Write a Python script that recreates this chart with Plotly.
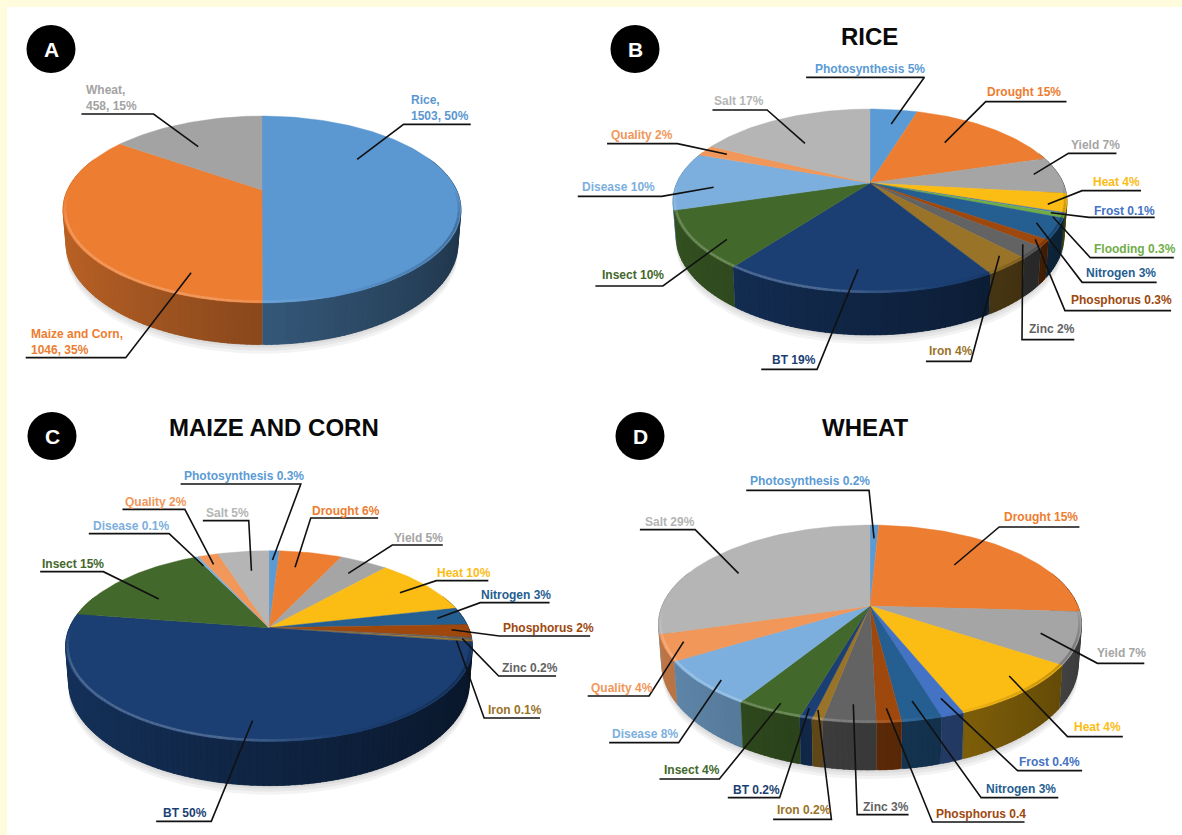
import math
import plotly.graph_objects as go

# ---------------- data ----------------
colors = {"Photosynthesis": "#5B9BD5", "Drought": "#ED7D31", "Yield": "#A5A5A5", "Heat": "#FBBC14",
          "Frost": "#4472C4", "Flooding": "#70AD47", "Nitrogen": "#255E91", "Phosphorus": "#9E480E",
          "Zinc": "#636363", "Iron": "#997328", "BT": "#1B3F73", "Insect": "#43682B",
          "Disease": "#7CAFDD", "Quality": "#F1975A", "Salt": "#B4B5B4",
          "Rice": "#5B97D1", "Maize": "#ED7D31", "Wheat": "#A3A3A3"}

crop_names = ["Rice", "Maize", "Wheat"]
crop_values = [1503, 1046, 458]

rice_names = ["Photosynthesis", "Drought", "Yield", "Heat", "Frost", "Flooding", "Nitrogen", "Phosphorus",
              "Zinc", "Iron", "BT", "Insect", "Disease", "Quality", "Salt"]
rice_values = [4.7, 15.6, 6.5, 3.3, 0.2, 0.7, 3.7, 1.2, 2.1, 3.3, 18.9, 10.1, 10.2, 1.9, 17.6]

maize_names = ["Photosynthesis", "Drought", "Yield", "Heat", "Nitrogen", "Phosphorus", "Zinc", "Iron",
               "BT", "Insect", "Disease", "Quality", "Salt"]
maize_values = [1.0, 6.0, 4.6, 9.8, 3.0, 2.2, 0.4, 0.3, 50.0, 15.4, 0.3, 1.9, 4.9]

wheat_names = ["Photosynthesis", "Drought", "Yield", "Heat", "Frost", "Nitrogen", "Phosphorus", "Zinc",
               "Iron", "BT", "Insect", "Disease", "Quality", "Salt"]
wheat_values = [0.8, 25.1, 8.5, 9.5, 1.5, 2.6, 1.6, 3.4, 0.7, 0.8, 4.3, 7.4, 4.3, 29.5]

# ---------------- layout of the four panels ----------------
# cx, cy = apex, rx, ry = radii before perspective, k = perspective, h = wall height
panel_geo = {
    "A": dict(cx=262, cy=190, rx=194.6, ry=89.4, k=-0.2086, h=33),
    "B": dict(cx=870, cy=183, rx=193.2, ry=88.5, k=-0.1957, h=33.8),
    "C": dict(cx=269, cy=627.7, rx=199.6, ry=91.9, k=-0.1937, h=35.5),
    "D": dict(cx=870, cy=606, rx=208.0, ry=95.7, k=-0.182, h=38.5),
}
# conversion of callout coordinates: page x = ox + X / sx, page y = oy + Y / 3
frames = {"A": (0, 2.8, 0), "B": (570, 2.562, 0), "C": (0, 2.613, 400), "D": (580, 2.605, 400)}

callouts = {
    "A": [("Rice", "Rice,<br>1503, 50%", 1148, 323, [(1000, 478), (1130, 373), (1318, 373)]),
          ("Wheat", "Wheat,<br>458, 15%", 238, 295, [(555, 440), (430, 342), (228, 342)]),
          ("Maize", "Maize and Corn,<br>1046, 35%", 83, 1026, [(535, 818), (352, 1073), (72, 1073)])],
    "B": [("Photosynthesis", "Photosynthesis 5%", 625, 208, [(823, 372), (908, 232), (605, 232)]),
          ("Drought", "Drought 15%", 1066, 277, [(960, 428), (1065, 305), (1272, 305)]),
          ("Yield", "Yield 7%", 1282, 435, [(1188, 523), (1277, 460), (1400, 460)]),
          ("Heat", "Heat 4%", 1338, 545, [(1224, 613), (1312, 572), (1463, 572)]),
          ("Frost", "Frost 0.1%", 1340, 632, [(1232, 638), (1330, 652), (1498, 652)]),
          ("Flooding", "Flooding 0.3%", 1340, 748, [(1237, 650), (1333, 773), (1547, 773)]),
          ("Nitrogen", "Nitrogen 3%", 1320, 820, [(1195, 668), (1312, 847), (1503, 847)]),
          ("Phosphorus", "Phosphorus 0.3%", 1280, 900, [(1192, 718), (1268, 932), (1540, 932)]),
          ("Zinc", "Zinc 2%", 1173, 988, [(1160, 733), (1158, 1019), (1292, 1019)]),
          ("Iron", "Iron 4%", 918, 1054, [(1100, 767), (1027, 1084), (912, 1084)]),
          ("BT", "BT 19%", 514, 1080, [(738, 808), (633, 1108), (490, 1108)]),
          ("Insect", "Insect 10%", 80, 825, [(402, 718), (238, 858), (65, 858)]),
          ("Disease", "Disease 10%", 27, 560, [(368, 562), (235, 589), (20, 589)]),
          ("Quality", "Quality 2%", 102, 404, [(402, 463), (275, 431), (95, 431)]),
          ("Salt", "Salt 17%", 366, 302, [(602, 430), (505, 330), (365, 330)])],
    "C": [("Photosynthesis", "Photosynthesis 0.3%", 477, 229, [(712, 480), (786, 252), (472, 252)]),
          ("Drought", "Drought 6%", 813, 332, [(771, 502), (812, 354), (988, 354)]),
          ("Yield", "Yield 5%", 1027, 413, [(910, 520), (1025, 435), (1157, 435)]),
          ("Heat", "Heat 10%", 1138, 518, [(1045, 578), (1140, 542), (1276, 542)]),
          ("Nitrogen", "Nitrogen 3%", 1254, 584, [(1143, 655), (1255, 608), (1436, 608)]),
          ("Phosphorus", "Phosphorus 2%", 1311, 685, [(1180, 689), (1305, 708), (1542, 708)]),
          ("Zinc", "Zinc 0.2%", 1308, 805, [(1208, 716), (1303, 828), (1453, 828)]),
          ("Iron", "Iron 0.1%", 1272, 930, [(1193, 722), (1265, 954), (1411, 954)]),
          ("BT", "BT 50%", 424, 1238, [(660, 962), (552, 1264), (408, 1264)]),
          ("Insect", "Insect 15%", 107, 492, [(415, 597), (270, 515), (105, 515)]),
          ("Disease", "Disease 0.1%", 240, 377, [(532, 498), (442, 401), (232, 401)]),
          ("Quality", "Quality 2%", 324, 305, [(558, 493), (483, 328), (320, 328)]),
          ("Salt", "Salt 5%", 536, 340, [(657, 512), (650, 362), (530, 362)])],
    "D": [("Photosynthesis", "Photosynthesis 0.2%", 440, 244, [(766, 415), (753, 271), (433, 271)]),
          ("Drought", "Drought 15%", 1103, 350, [(975, 495), (1092, 381), (1301, 381)]),
          ("Yield", "Yield 7%", 1344, 759, [(1200, 700), (1348, 790), (1470, 790)]),
          ("Heat", "Heat 4%", 1284, 980, [(1118, 828), (1270, 1010), (1414, 1010)]),
          ("Frost", "Frost 0.4%", 1140, 1086, [(940, 895), (1140, 1112), (1308, 1112)]),
          ("Nitrogen", "Nitrogen 3%", 1056, 1166, [(865, 903), (1045, 1193), (1246, 1193)]),
          ("Phosphorus", "Phosphorus 0.4", 926, 1242, [(798, 925), (918, 1266), (1158, 1266)]),
          ("Zinc", "Zinc 3%", 735, 1222, [(712, 913), (722, 1244), (856, 1244)]),
          ("Iron", "Iron 0.2%", 510, 1230, [(620, 930), (655, 1258), (503, 1258)]),
          ("BT", "BT 0.2%", 396, 1170, [(597, 925), (520, 1193), (385, 1193)]),
          ("Insect", "Insect 4%", 215, 1110, [(523, 910), (363, 1137), (207, 1137)]),
          ("Disease", "Disease 8%", 80, 1003, [(368, 840), (257, 1028), (76, 1028)]),
          ("Quality", "Quality 4%", 27, 864, [(270, 725), (180, 888), (20, 888)]),
          ("Salt", "Salt 29%", 166, 366, [(413, 520), (300, 389), (156, 389)])],
}
titles = [("RICE", 869, 36), ("MAIZE AND CORN", 274, 427), ("WHEAT", 865, 427)]
badges = [("A", 51, 49), ("B", 635, 49), ("C", 52, 436), ("D", 640, 436)]

FONT = "Liberation Sans"
fig = go.Figure()


def hex_rgb(c):
    return tuple(int(c[i:i + 2], 16) for i in (1, 3, 5))


def shade(c, f):
    r, g, b = hex_rgb(c)
    return f"rgb({int(r * f)},{int(g * f)},{int(b * f)})"


def mix(c, other, a):
    return tuple(int(v * (1 - a) + o * a) for v, o in zip(c, other))


def pt(g, th, rad=1.0):
    """th measured clockwise from the top of the disc, with perspective."""
    sn, cs = -math.cos(th) * rad, math.sin(th) * rad
    w = 1 + g["k"] * sn
    return g["cx"] + g["rx"] * cs / w, g["cy"] + g["ry"] * sn / w


def low(g, th):
    x, y = pt(g, th)
    sn = -math.cos(th)
    return g["cx"] + (x - g["cx"]) * 0.985, y + g["h"] / (1 + g["k"] * sn)


def poly(xs, ys, fill, line=None, lw=0.0):
    fig.add_trace(go.Scatter(x=xs, y=ys, mode="lines", fill="toself", fillcolor=fill,
                             line=dict(color=line or fill, width=lw), hoverinfo="skip", showlegend=False))


def draw_pie(g, names, values):
    total = sum(values)
    step = math.radians(1.5)
    bounds, acc = [0.0], 0.0
    for v in values:
        acc += v
        bounds.append(2 * math.pi * acc / total)
    # soft shadow beneath the disc
    full = [2 * math.pi * i / 120 for i in range(121)]
    for off in (9, 6, 3):
        xs = [low(g, t)[0] for t in full]
        ys = [low(g, t)[1] + off for t in full]
        poly(xs, ys, "rgba(90,90,90,0.07)", "rgba(0,0,0,0)", 0)
    # wall strips; each strip overlaps its neighbours inside the slice to hide seams
    strips = []
    for name, t0, t1 in zip(names, bounds[:-1], bounds[1:]):
        n = max(1, int(math.ceil((t1 - t0) / step)))
        for i in range(n):
            a = t0 + (t1 - t0) * i / n
            b = t0 + (t1 - t0) * (i + 1) / n
            strips.append((-math.cos((a + b) / 2), name, a, b, t0, t1))
    strips.sort(key=lambda s: s[0])
    for sn, name, a, b, t0, t1 in strips:
        if sn < -0.35:
            continue
        u = math.sin((a + b) / 2)
        f = 0.58 - 0.22 * u
        col = shade(colors[name], f)
        ea, eb = max(t0, a - step * 0.6), min(t1, b + step * 0.6)
        p0, p1, q1, q0 = pt(g, ea), pt(g, eb), low(g, eb), low(g, ea)
        poly([p0[0], p1[0], q1[0], q0[0], p0[0]], [p0[1], p1[1], q1[1], q0[1], p0[1]], col, col, 0.3)
    # top faces
    for name, t0, t1 in zip(names, bounds[:-1], bounds[1:]):
        n = max(2, int(math.ceil((t1 - t0) / math.radians(1.5))))
        arc = [pt(g, t0 + (t1 - t0) * i / n) for i in range(n + 1)]
        poly([g["cx"]] + [p[0] for p in arc] + [g["cx"]], [g["cy"]] + [p[1] for p in arc] + [g["cy"]],
             colors[name], colors[name], 0.4)
    # bevel highlight on the front edge of the top face, by slice and fading with position
    for sn, name, a, b, t0, t1 in strips:
        if sn < 0.03:
            continue
        u = math.sin((a + b) / 2)
        amt = min(1.0, sn * 2.5)
        rgb = hex_rgb(colors[name])
        light = 0.22 * amt * max(0.0, min(1.0, (0.3 - u) / 0.5))
        dark = 0.3 * amt * max(0.0, (u - 0.3) / 0.7)
        c = mix(mix(rgb, (255, 255, 255), light), (0, 0, 0), dark)
        p0, p1 = pt(g, a, 0.99), pt(g, b, 0.99)
        fig.add_trace(go.Scatter(x=[p0[0], p1[0]], y=[p0[1], p1[1]], mode="lines",
                                 line=dict(color=f"rgb{c}", width=2.4), hoverinfo="skip", showlegend=False))


draw_pie(panel_geo["A"], crop_names, crop_values)
draw_pie(panel_geo["B"], rice_names, rice_values)
draw_pie(panel_geo["C"], maize_names, maize_values)
draw_pie(panel_geo["D"], wheat_names, wheat_values)

annotations = []
for panel, items in callouts.items():
    ox, sx, oy = frames[panel]
    for name, text, tx, ty, pts in items:
        fig.add_trace(go.Scatter(x=[ox + p[0] / sx for p in pts], y=[oy + p[1] / 3 for p in pts], mode="lines",
                                 line=dict(color="#111111", width=1.6), hoverinfo="skip", showlegend=False))
        bold = "<b>" + text.replace("<br>", "</b><br><b>") + "</b>"
        annotations.append(dict(x=ox + tx / sx, y=oy + ty / 3, xref="x", yref="y", text=bold, showarrow=False,
                                xanchor="left", yanchor="middle", align="left",
                                font=dict(family=FONT, size=12, color=colors[name]),
                                borderpad=0))
for text, x, y in titles:
    annotations.append(dict(x=x, y=y, xref="x", yref="y", text=f"<b>{text}</b>", showarrow=False,
                            font=dict(family=FONT, size=24, color="#0a0a0a")))

shapes = [dict(type="rect", xref="x", yref="y", x0=7, y0=7, x1=1182, y1=835, fillcolor="white",
               line=dict(width=0), layer="below")]
for text, x, y in badges:
    shapes.append(dict(type="circle", xref="x", yref="y", x0=x - 24.5, x1=x + 24.5, y0=y - 24, y1=y + 24,
                       fillcolor="black", line=dict(width=0), layer="above"))
    annotations.append(dict(x=x, y=y, xref="x", yref="y", text=f"<b>{text}</b>", showarrow=False,
                            font=dict(family=FONT, size=21, color="white")))

fig.update_layout(width=1182, height=835, margin=dict(l=0, r=0, t=0, b=0), paper_bgcolor="#FFFBDD",
                  plot_bgcolor="rgba(0,0,0,0)", showlegend=False, shapes=shapes, annotations=annotations,
                  xaxis=dict(range=[0, 1182], visible=False, fixedrange=True),
                  yaxis=dict(range=[835, 0], visible=False, fixedrange=True),
                  font=dict(family=FONT))

fig.write_html("out.html", config=dict(displayModeBar=False),
               post_script="document.body.style.margin='0';document.body.style.overflow='hidden';")
